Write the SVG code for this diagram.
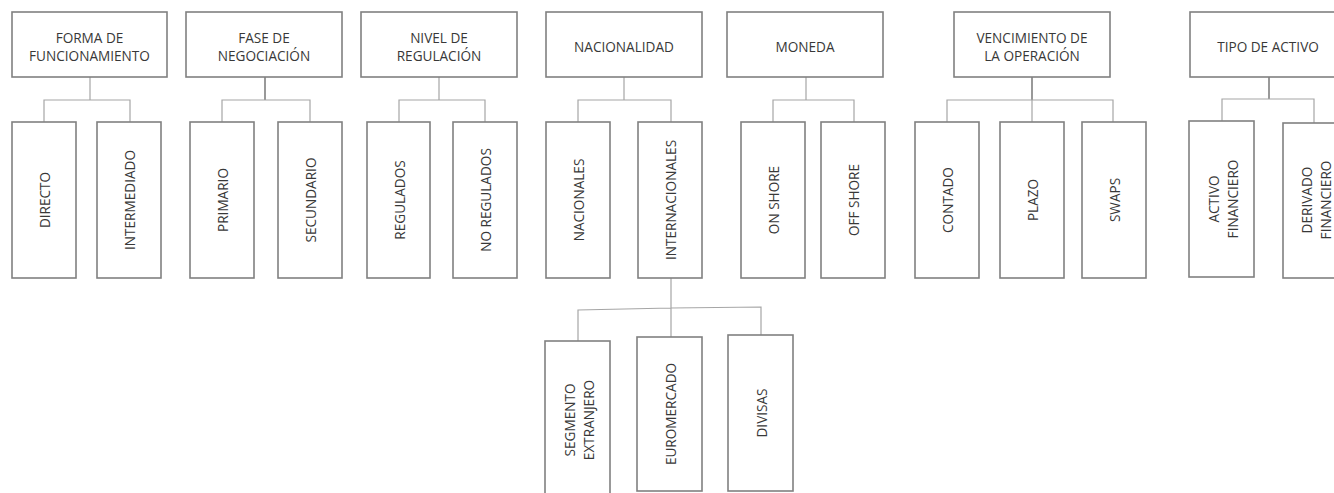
<svg xmlns="http://www.w3.org/2000/svg" width="1334" height="493" viewBox="0 0 1334 493">
<style>
.box{fill:#fff;stroke:#808080;stroke-width:1.6}
.t{font-family:"Open Sans","Liberation Sans",sans-serif;font-size:13.6px;fill:#383838;text-anchor:middle;dominant-baseline:central}
.c{fill:none;stroke:#a6a6a6;stroke-width:1.2}
.cd{fill:none;stroke:#6e6e6e;stroke-width:1.4}
</style>
<rect width="1334" height="493" fill="#fff"/>
<g id="connectors">
<path class="c" d="M90 77V100M44 122V100H130V122"/>
<path class="cd" d="M265 77V100"/>
<path class="c" d="M222 122V100H310V122"/>
<path class="c" d="M439 77V100M399 122V100H485V122"/>
<path class="c" d="M624 77V100M578 122V100H671V122"/>
<path class="c" d="M806 77V100M773 122V100H854V122"/>
<path class="cd" d="M1032 77V100"/>
<path class="c" d="M947 122V100H1113V122M1032 100V122"/>
<path class="cd" d="M1269 77V99"/>
<path class="c" d="M1222 121V99H1314V123"/>
<path class="c" d="M671 278V308M578 341V310L671 308L761 307V335M671 308V337"/>
</g>
<g id="forma"><rect class="box" x="12" y="12" width="155" height="65"/><text class="t" x="89.5" y="37">FORMA DE</text><text class="t" x="89.5" y="55.5">FUNCIONAMIENTO</text></g>
<g id="fase"><rect class="box" x="186" y="12" width="156" height="65"/><text class="t" x="264" y="37">FASE DE</text><text class="t" x="264" y="55.5">NEGOCIACIÓN</text></g>
<g id="nivel"><rect class="box" x="361" y="12" width="156" height="65"/><text class="t" x="439" y="37">NIVEL DE</text><text class="t" x="439" y="55.5">REGULACIÓN</text></g>
<g id="nacionalidad"><rect class="box" x="546" y="12" width="156" height="65"/><text class="t" x="624" y="46">NACIONALIDAD</text></g>
<g id="moneda"><rect class="box" x="727" y="12" width="156" height="65"/><text class="t" x="805" y="46">MONEDA</text></g>
<g id="vencimiento"><rect class="box" x="954" y="12" width="156" height="65"/><text class="t" x="1032" y="37">VENCIMIENTO DE</text><text class="t" x="1032" y="55.5">LA OPERACIÓN</text></g>
<g id="tipo"><rect class="box" x="1190" y="12" width="156" height="65"/><text class="t" x="1268" y="46">TIPO DE ACTIVO</text></g>
<g id="directo"><rect class="box" x="12" y="122" width="64" height="156"/><text class="t" transform="translate(44.5 200) rotate(-90)">DIRECTO</text></g>
<g id="intermediado"><rect class="box" x="97" y="122" width="64" height="156"/><text class="t" transform="translate(129.5 200) rotate(-90)">INTERMEDIADO</text></g>
<g id="primario"><rect class="box" x="190" y="122" width="64" height="156"/><text class="t" transform="translate(222.5 200) rotate(-90)">PRIMARIO</text></g>
<g id="secundario"><rect class="box" x="278" y="122" width="64" height="156"/><text class="t" transform="translate(310.5 200) rotate(-90)">SECUNDARIO</text></g>
<g id="regulados"><rect class="box" x="367" y="122" width="63" height="156"/><text class="t" transform="translate(399 200) rotate(-90)">REGULADOS</text></g>
<g id="noregulados"><rect class="box" x="453" y="122" width="64" height="156"/><text class="t" transform="translate(485.5 200) rotate(-90)">NO REGULADOS</text></g>
<g id="nacionales"><rect class="box" x="546" y="122" width="64" height="156"/><text class="t" transform="translate(578.5 200) rotate(-90)">NACIONALES</text></g>
<g id="internacionales"><rect class="box" x="638" y="122" width="64" height="156"/><text class="t" transform="translate(670.5 200) rotate(-90)">INTERNACIONALES</text></g>
<g id="onshore"><rect class="box" x="741" y="122" width="64" height="156"/><text class="t" transform="translate(773.5 200) rotate(-90)">ON SHORE</text></g>
<g id="offshore"><rect class="box" x="821" y="122" width="64" height="156"/><text class="t" transform="translate(853.5 200) rotate(-90)">OFF SHORE</text></g>
<g id="contado"><rect class="box" x="915" y="122" width="64" height="156"/><text class="t" transform="translate(947.5 200) rotate(-90)">CONTADO</text></g>
<g id="plazo"><rect class="box" x="1000" y="122" width="64" height="156"/><text class="t" transform="translate(1032.5 200) rotate(-90)">PLAZO</text></g>
<g id="swaps"><rect class="box" x="1082" y="122" width="64" height="156"/><text class="t" transform="translate(1114.5 200) rotate(-90)">SWAPS</text></g>
<g id="activo"><rect class="box" x="1189" y="121" width="65" height="156"/><text class="t" transform="translate(1222 199) rotate(-90)"><tspan x="0" y="-9.5">ACTIVO</tspan><tspan x="0" y="9.5">FINANCIERO</tspan></text></g>
<g id="derivado"><rect class="box" x="1283" y="123" width="64" height="155"/><text class="t" transform="translate(1315.5 200) rotate(-90)"><tspan x="0" y="-9.5">DERIVADO</tspan><tspan x="0" y="9.5">FINANCIERO</tspan></text></g>
<g id="segmento"><rect class="box" x="545" y="341" width="65" height="158"/><text class="t" transform="translate(578 420) rotate(-90)"><tspan x="0" y="-9.5">SEGMENTO</tspan><tspan x="0" y="9.5">EXTRANJERO</tspan></text></g>
<g id="euromercado"><rect class="box" x="637" y="337" width="65" height="154"/><text class="t" transform="translate(670 414) rotate(-90)">EUROMERCADO</text></g>
<g id="divisas"><rect class="box" x="728" y="335" width="65" height="156"/><text class="t" transform="translate(761 413) rotate(-90)">DIVISAS</text></g>
</svg>
